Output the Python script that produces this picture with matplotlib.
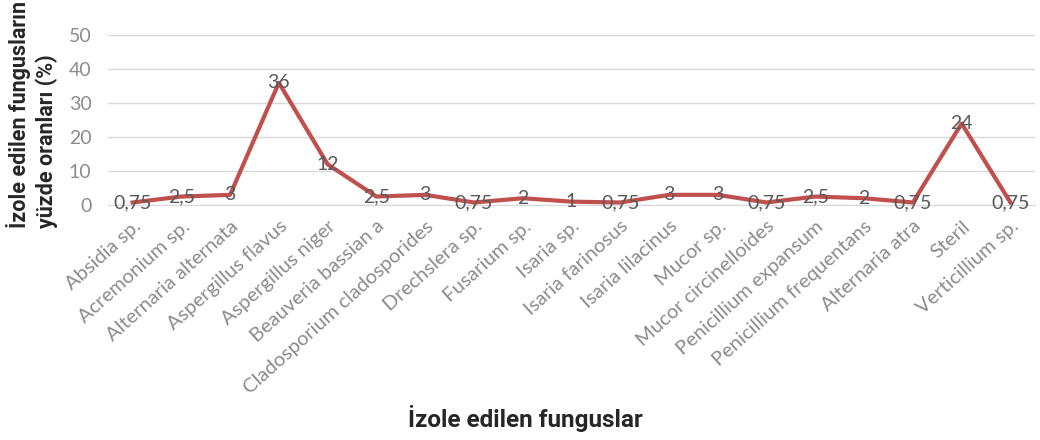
import matplotlib
matplotlib.use('Agg')
import matplotlib.pyplot as plt

plt.rcParams['font.family'] = ['Lato', 'DejaVu Sans']

fungi = ['Absidia sp.', 'Acremonium sp.', 'Alternaria alternata', 'Aspergillus flavus',
         'Aspergillus niger', 'Beauveria bassian a', 'Cladosporium cladosporides',
         'Drechslera sp.', 'Fusarium sp.', 'Isaria sp.', 'Isaria farinosus',
         'Isaria lilacinus', 'Mucor sp.', 'Mucor circinelloides', 'Penicillium expansum',
         'Penicillium frequentans', 'Alternaria atra', 'Steril', 'Verticillium sp.']
percent = [0.75, 2.5, 3, 36, 12, 2.5, 3, 0.75, 2, 1, 0.75, 3, 3, 0.75, 2.5, 2, 0.75, 24, 0.75]
yticks = [0, 10, 20, 30, 40, 50]

grey = '#8c8c8c'
red = '#c0504d'

fig = plt.figure(figsize=(10.4, 4.4), dpi=100)
ax = fig.add_axes([0.104, 0.534, 0.891, 0.386])

x = list(range(len(fungi)))
ax.plot(x, percent, color=red, linewidth=3, solid_joinstyle='round', zorder=3)

# data labels centered on the points, like excel
for xi, v in zip(x, percent):
    txt = ('%g' % v).replace('.', ',')
    ax.text(xi, v, txt, ha='center', va='center', fontsize=14, color='#595959', zorder=4)

ax.set_xlim(-0.5, len(fungi) - 0.5)
ax.set_ylim(0, 50)
ax.set_yticks(yticks)
ax.set_yticklabels([str(t) for t in yticks], fontsize=14, color=grey)
ax.yaxis.grid(True, color='#d9d9d9', linewidth=1)
ax.set_axisbelow(True)
ax.tick_params(axis='y', length=0, pad=12)
ax.tick_params(axis='x', length=0, pad=9)

ax.set_xticks(x)
ax.set_xticklabels(fungi, rotation=42, ha='right', rotation_mode='anchor',
                   fontsize=14.5, color=grey)

for s in ['top', 'right', 'left']:
    ax.spines[s].set_visible(False)
ax.spines['bottom'].set_color('#d9d9d9')

fig.text(0.505, 0.05, 'İzole edilen funguslar', ha='center', va='center',
         fontsize=17.5, fontweight='bold', color='#262626', family=['Roboto', 'DejaVu Sans'])
fig.text(0.031, 0.482, 'İzole edilen fungusların\nyüzde oranları (%)', ha='center', va='bottom',
         rotation=90, multialignment='left', fontsize=15.5, fontweight='bold', color='#262626',
         linespacing=1.25, family=['Roboto', 'DejaVu Sans'])

plt.savefig('out.png', dpi=100)
plt.close()
